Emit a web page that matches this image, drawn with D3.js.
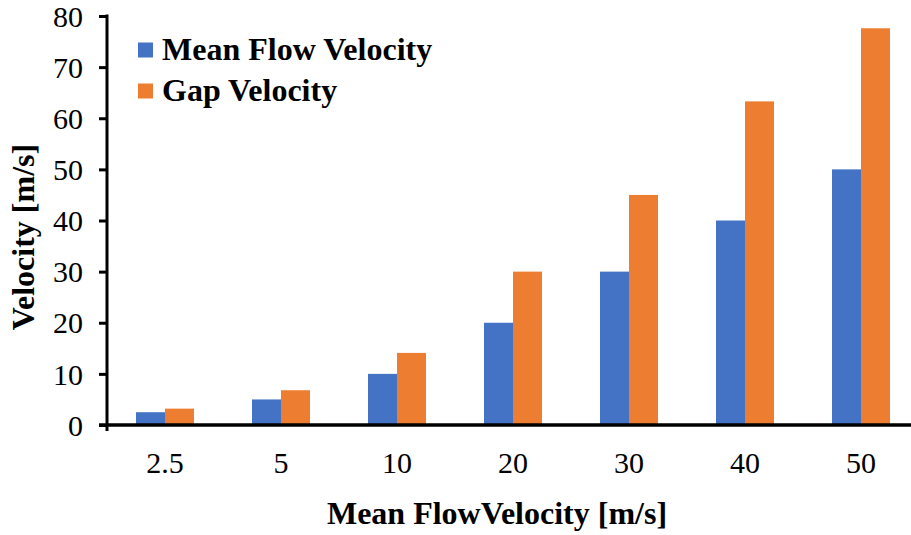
<!DOCTYPE html>
<html>
<head>
<meta charset="utf-8">
<script src="https://cdn.jsdelivr.net/npm/d3@7"></script>
<style>
  html, body { margin: 0; padding: 0; background: #fff; }
  svg { display: block; }
</style>
</head>
<body>
<svg id="chart" width="911" height="535"></svg>
<script>
// Chart data
const categories = ["2.5", "5", "10", "20", "30", "40", "50"];
const meanFlow = [2.5, 5, 10, 20, 30, 40, 50];
const gapVelocity = [3.2, 6.8, 14.1, 30, 45, 63.3, 77.6];
const seriesNames = ["Mean Flow Velocity", "Gap Velocity"];
const seriesColors = ["#4472C4", "#ED7D31"];
const yTicks = [0, 10, 20, 30, 40, 50, 60, 70, 80];

const FONT = "Liberation Serif";
const svg = d3.select("#chart");
const plotLeft = 107, plotRight = 919, plotTop = 16, plotBottom = 425;

const x = d3.scaleBand()
  .domain(categories)
  .range([plotLeft, plotRight])
  .paddingInner(0.5)
  .paddingOuter(0.25);

const xs = d3.scaleBand()
  .domain(seriesNames)
  .range([0, x.bandwidth()]);

const y = d3.scaleLinear().domain([0, 80]).range([plotBottom, plotTop]);

const rows = categories.map((c, i) => ({ cat: c, values: [meanFlow[i], gapVelocity[i]] }));

// Bars
const groups = svg.append("g").selectAll("g")
  .data(rows)
  .join("g")
  .attr("transform", d => `translate(${x(d.cat)},0)`);

groups.selectAll("rect")
  .data(d => d.values.map((v, k) => ({ name: seriesNames[k], v, k })))
  .join("rect")
  .attr("x", d => xs(d.name))
  .attr("width", xs.bandwidth())
  .attr("y", d => y(d.v))
  .attr("height", d => y(0) - y(d.v))
  .attr("fill", d => seriesColors[d.k]);

// Y axis
const yAxis = d3.axisLeft(y).tickValues(yTicks).tickSize(8).tickPadding(16);
const gy = svg.append("g").attr("transform", `translate(${plotLeft},0)`).call(yAxis)
  .attr("font-family", FONT).attr("font-size", 30);
gy.select(".domain").remove();
gy.selectAll(".tick line").attr("stroke", "#000").attr("stroke-width", 3);
gy.selectAll(".tick text")
  .style("font-family", FONT).style("font-size", "30px")
  .attr("fill", "#000")
  .attr("dy", "0.34em");
svg.append("line")
  .attr("x1", plotLeft).attr("x2", plotLeft)
  .attr("y1", plotTop - 1.5).attr("y2", plotBottom + 6)
  .attr("stroke", "#000").attr("stroke-width", 3);

// X axis
const xAxis = d3.axisBottom(x).tickSize(0).tickPadding(27);
const gx = svg.append("g").attr("transform", `translate(0,${plotBottom})`).call(xAxis)
  .attr("font-family", FONT).attr("font-size", 30);
gx.select(".domain").remove();
gx.selectAll(".tick text")
  .style("font-family", FONT).style("font-size", "30px")
  .attr("fill", "#000");
svg.append("line")
  .attr("x1", plotLeft - 8).attr("x2", 911)
  .attr("y1", plotBottom).attr("y2", plotBottom)
  .attr("stroke", "#000").attr("stroke-width", 3.5);

// Axis titles
svg.append("text")
  .attr("x", 497).attr("y", 524)
  .attr("text-anchor", "middle")
  .style("font-family", FONT).style("font-size", "32px").style("font-weight", "bold")
  .text("Mean FlowVelocity [m/s]");

svg.append("text")
  .attr("transform", "translate(34,237) rotate(-90)")
  .attr("text-anchor", "middle")
  .style("font-family", FONT).style("font-size", "32px").style("font-weight", "bold")
  .text("Velocity [m/s]");

// Legend
const legend = svg.append("g").attr("transform", "translate(138,42.5)");
const li = legend.selectAll("g")
  .data(seriesNames)
  .join("g")
  .attr("transform", (d, i) => `translate(0,${i * 41})`);
li.append("rect").attr("width", 15).attr("height", 15)
  .attr("fill", (d, i) => seriesColors[i]);
li.append("text")
  .attr("x", 24).attr("y", 17.5)
  .style("font-family", FONT).style("font-size", "32px").style("font-weight", "bold")
  .text(d => d);
</script>
</body>
</html>
